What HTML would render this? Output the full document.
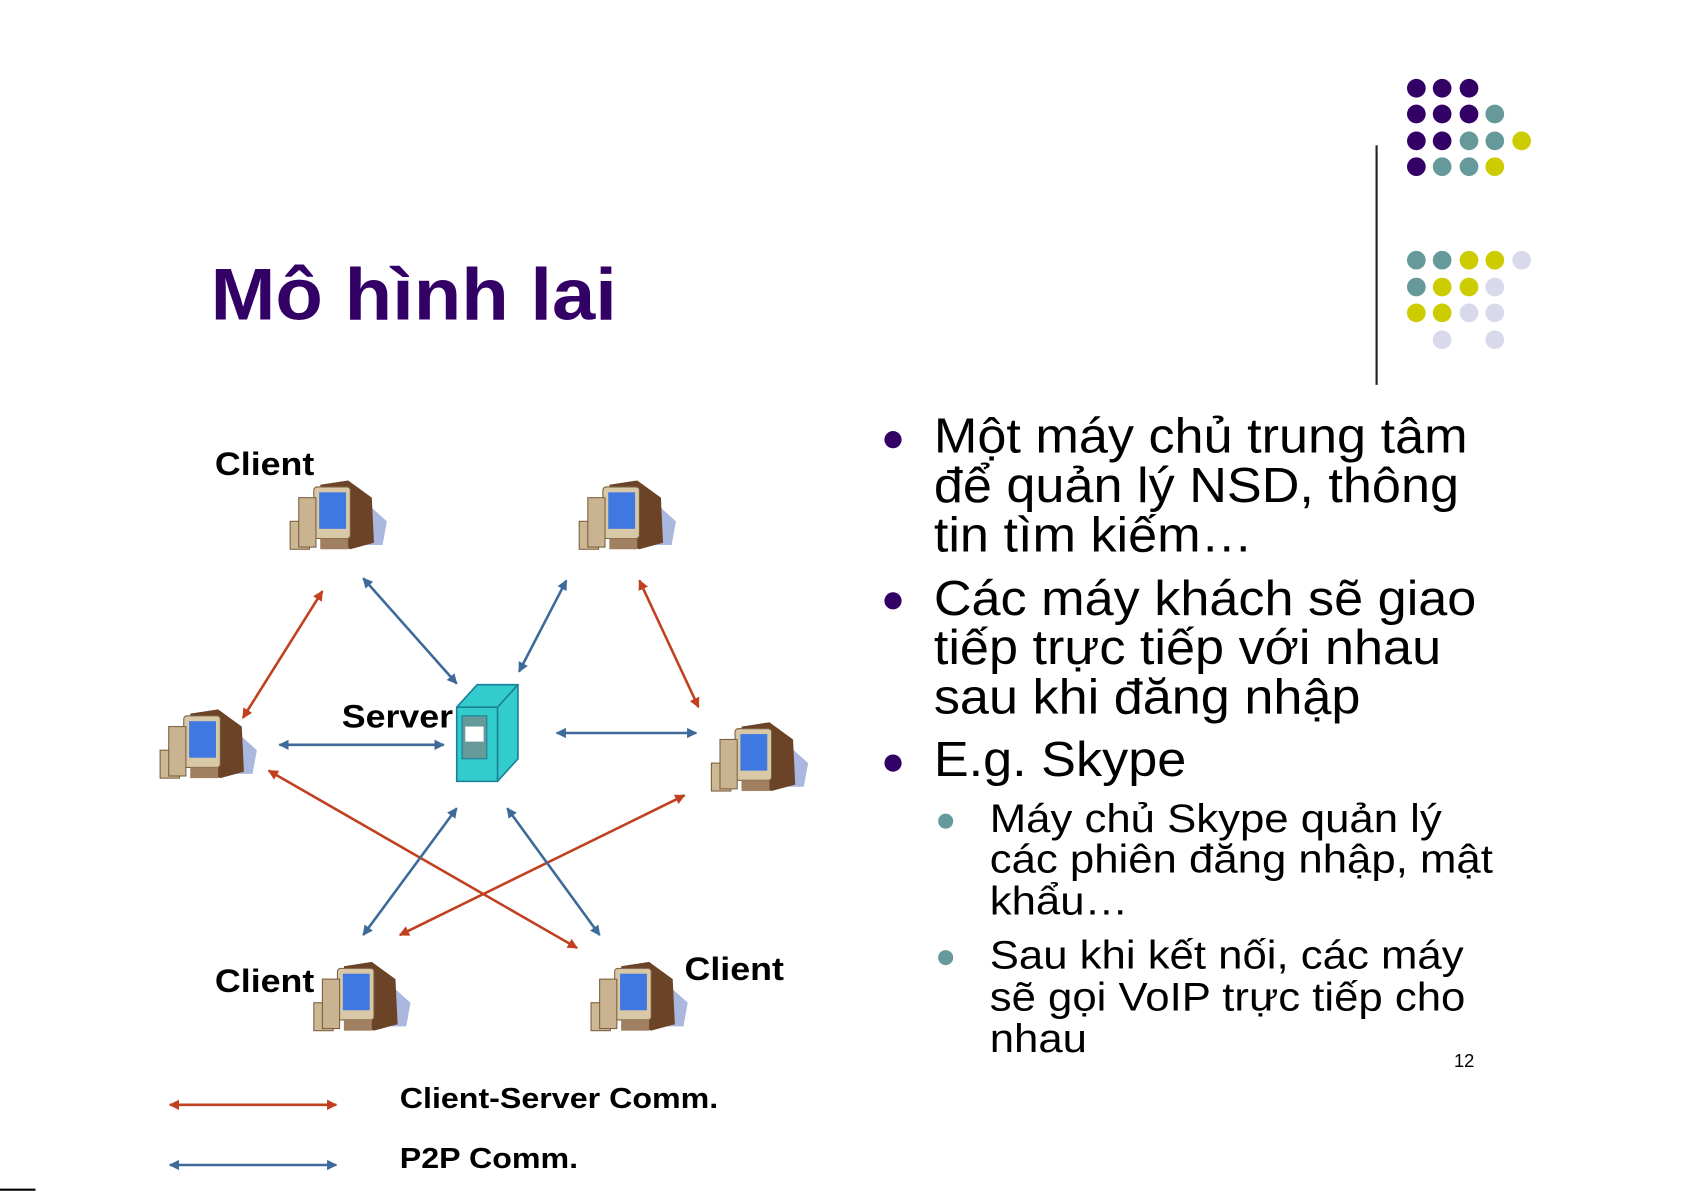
<!DOCTYPE html>
<html><head><meta charset="utf-8"><style>
html,body{margin:0;padding:0;background:#fff;}
svg{display:block;}
text{font-family:"Liberation Sans",Arial,sans-serif;}
</style></head><body>
<svg width="1685" height="1192" viewBox="0 0 1568 1109" xmlns="http://www.w3.org/2000/svg">
<defs>
<marker id="ar" viewBox="0 0 10 10" refX="9" refY="5" markerWidth="4" markerHeight="4" orient="auto-start-reverse"><path d="M0,0 L10,5 L0,10 z" fill="#c0401f"/></marker>
<marker id="ab" viewBox="0 0 10 10" refX="9" refY="5" markerWidth="4" markerHeight="4" orient="auto-start-reverse"><path d="M0,0 L10,5 L0,10 z" fill="#3e6a9a"/></marker>
<g id="pc">
<path d="M44,8 L72,22 L92,40 L88,62 L52,62 Z" fill="#aab8e0"/>
<path d="M30,6 L56,2 L78,18 L80,60 L58,66 L34,58 Z" fill="#6b4326"/>
<rect x="24" y="8" width="34" height="48" rx="3" fill="#d8c8a8" stroke="#7a6040" stroke-width="1"/>
<rect x="29" y="13" width="25" height="34" fill="#3f78e0"/>
<rect x="2" y="40" width="18" height="26" fill="#cdb894" stroke="#7a6040" stroke-width="1"/>
<rect x="10" y="18" width="16" height="46" fill="#c9b390" stroke="#7a6040" stroke-width="1"/>
<rect x="30" y="56" width="26" height="10" fill="#a08060"/>
</g>
</defs>

<!-- title -->
<g transform="translate(196,0) scale(1.065,1) translate(-196,0)">
<text x="196" y="297" font-size="68" font-weight="bold" fill="#330066">Mô hình lai</text>
</g>

<!-- dots -->
<g>
<circle cx="1318" cy="82" r="8.7" fill="#330066"/><circle cx="1342" cy="82" r="8.7" fill="#330066"/><circle cx="1367" cy="82" r="8.7" fill="#330066"/>
<circle cx="1318" cy="106" r="8.7" fill="#330066"/><circle cx="1342" cy="106" r="8.7" fill="#330066"/><circle cx="1367" cy="106" r="8.7" fill="#330066"/><circle cx="1391" cy="106" r="8.7" fill="#669999"/>
<circle cx="1318" cy="131" r="8.7" fill="#330066"/><circle cx="1342" cy="131" r="8.7" fill="#330066"/><circle cx="1367" cy="131" r="8.7" fill="#669999"/><circle cx="1391" cy="131" r="8.7" fill="#669999"/><circle cx="1416" cy="131" r="8.7" fill="#cccc00"/>
<circle cx="1318" cy="155" r="8.7" fill="#330066"/><circle cx="1342" cy="155" r="8.7" fill="#669999"/><circle cx="1367" cy="155" r="8.7" fill="#669999"/><circle cx="1391" cy="155" r="8.7" fill="#cccc00"/>
<circle cx="1318" cy="242" r="8.7" fill="#669999"/><circle cx="1342" cy="242" r="8.7" fill="#669999"/><circle cx="1367" cy="242" r="8.7" fill="#cccc00"/><circle cx="1391" cy="242" r="8.7" fill="#cccc00"/><circle cx="1416" cy="242" r="8.7" fill="#d9d9ec"/>
<circle cx="1318" cy="267" r="8.7" fill="#669999"/><circle cx="1342" cy="267" r="8.7" fill="#cccc00"/><circle cx="1367" cy="267" r="8.7" fill="#cccc00"/><circle cx="1391" cy="267" r="8.7" fill="#d9d9ec"/>
<circle cx="1318" cy="291" r="8.7" fill="#cccc00"/><circle cx="1342" cy="291" r="8.7" fill="#cccc00"/><circle cx="1367" cy="291" r="8.7" fill="#d9d9ec"/><circle cx="1391" cy="291" r="8.7" fill="#d9d9ec"/>
<circle cx="1342" cy="316" r="8.7" fill="#d9d9ec"/><circle cx="1391" cy="316" r="8.7" fill="#d9d9ec"/>
</g>
<line x1="1281" y1="135" x2="1281" y2="358" stroke="#222" stroke-width="2"/>

<!-- computers -->
<use href="#pc" x="268" y="445"/>
<use href="#pc" x="537" y="445"/>
<use href="#pc" x="147" y="658"/>
<use href="#pc" x="660" y="670"/>
<use href="#pc" x="290" y="893"/>
<use href="#pc" x="548" y="893"/>

<!-- server -->
<path d="M425,658 L444,637 L482,637 L482,706 L463,727 L425,727 Z" fill="#33cccc" stroke="#1a7f99" stroke-width="1.5"/>
<path d="M425,658 L463,658 L482,637 M463,658 L463,727" fill="none" stroke="#1a7f99" stroke-width="1.5"/>
<rect x="430" y="666" width="23" height="40" fill="#669999" stroke="#1a7f99"/>
<rect x="433" y="676" width="17" height="14" fill="#fff"/>

<!-- arrows -->
<g stroke="#c0401f" stroke-width="2.4" fill="none">
<line x1="300" y1="550" x2="226" y2="668" marker-start="url(#ar)" marker-end="url(#ar)"/>
<line x1="595" y1="540" x2="650" y2="658" marker-start="url(#ar)" marker-end="url(#ar)"/>
<line x1="250" y1="717" x2="537" y2="882" marker-start="url(#ar)" marker-end="url(#ar)"/>
<line x1="637" y1="740" x2="372" y2="870" marker-start="url(#ar)" marker-end="url(#ar)"/>
<line x1="158" y1="1028" x2="313" y2="1028" marker-start="url(#ar)" marker-end="url(#ar)"/>
</g>
<g stroke="#3e6a9a" stroke-width="2.4" fill="none">
<line x1="338" y1="538" x2="425" y2="636" marker-start="url(#ab)" marker-end="url(#ab)"/>
<line x1="527" y1="540" x2="483" y2="625" marker-start="url(#ab)" marker-end="url(#ab)"/>
<line x1="260" y1="693" x2="413" y2="693" marker-start="url(#ab)" marker-end="url(#ab)"/>
<line x1="518" y1="682" x2="648" y2="682" marker-start="url(#ab)" marker-end="url(#ab)"/>
<line x1="425" y1="752" x2="338" y2="870" marker-start="url(#ab)" marker-end="url(#ab)"/>
<line x1="472" y1="752" x2="558" y2="870" marker-start="url(#ab)" marker-end="url(#ab)"/>
<line x1="158" y1="1084" x2="313" y2="1084" marker-start="url(#ab)" marker-end="url(#ab)"/>
</g>

<!-- diagram labels -->
<g font-weight="bold" fill="#000">
<text x="200" y="442" font-size="30" transform="translate(200,0) scale(1.11,1) translate(-200,0)">Client</text>
<text x="318" y="677" font-size="30" transform="translate(318,0) scale(1.11,1) translate(-318,0)">Server</text>
<text x="200" y="923" font-size="30" transform="translate(200,0) scale(1.11,1) translate(-200,0)">Client</text>
<text x="637" y="912" font-size="30" transform="translate(637,0) scale(1.11,1) translate(-637,0)">Client</text>
<text x="372" y="1031" font-size="27" transform="translate(372,0) scale(1.11,1) translate(-372,0)">Client-Server Comm.</text>
<text x="372" y="1087" font-size="27" transform="translate(372,0) scale(1.11,1) translate(-372,0)">P2P Comm.</text>
</g>

<!-- bullets -->
<circle cx="831" cy="409" r="8" fill="#330066"/>
<circle cx="831" cy="559" r="8" fill="#330066"/>
<circle cx="831" cy="710" r="8" fill="#330066"/>
<circle cx="880" cy="764" r="7" fill="#669999"/>
<circle cx="880" cy="891" r="7" fill="#669999"/>
<g font-size="46" fill="#000" transform="translate(869,0) scale(1.056,1) translate(-869,0)">
<text x="869" y="421">Một máy chủ trung tâm</text>
<text x="869" y="467">để quản lý NSD, thông</text>
<text x="869" y="513">tin tìm kiếm…</text>
<text x="869" y="572">Các máy khách sẽ giao</text>
<text x="869" y="618">tiếp trực tiếp với nhau</text>
<text x="869" y="664">sau khi đăng nhập</text>
<text x="869" y="722">E.g. Skype</text>
</g>
<g font-size="37" fill="#000" transform="translate(921,0) scale(1.1,1) translate(-921,0)">
<text x="921" y="774">Máy chủ Skype quản lý</text>
<text x="921" y="812">các phiên đăng nhập, mật</text>
<text x="921" y="851">khẩu…</text>
<text x="921" y="901">Sau khi kết nối, các máy</text>
<text x="921" y="940">sẽ gọi VoIP trực tiếp cho</text>
<text x="921" y="979">nhau</text>
</g>
<text x="1353" y="993" font-size="17" fill="#000">12</text>
<line x1="0" y1="1107" x2="33" y2="1107" stroke="#000" stroke-width="2"/>
</svg>
</body></html>
